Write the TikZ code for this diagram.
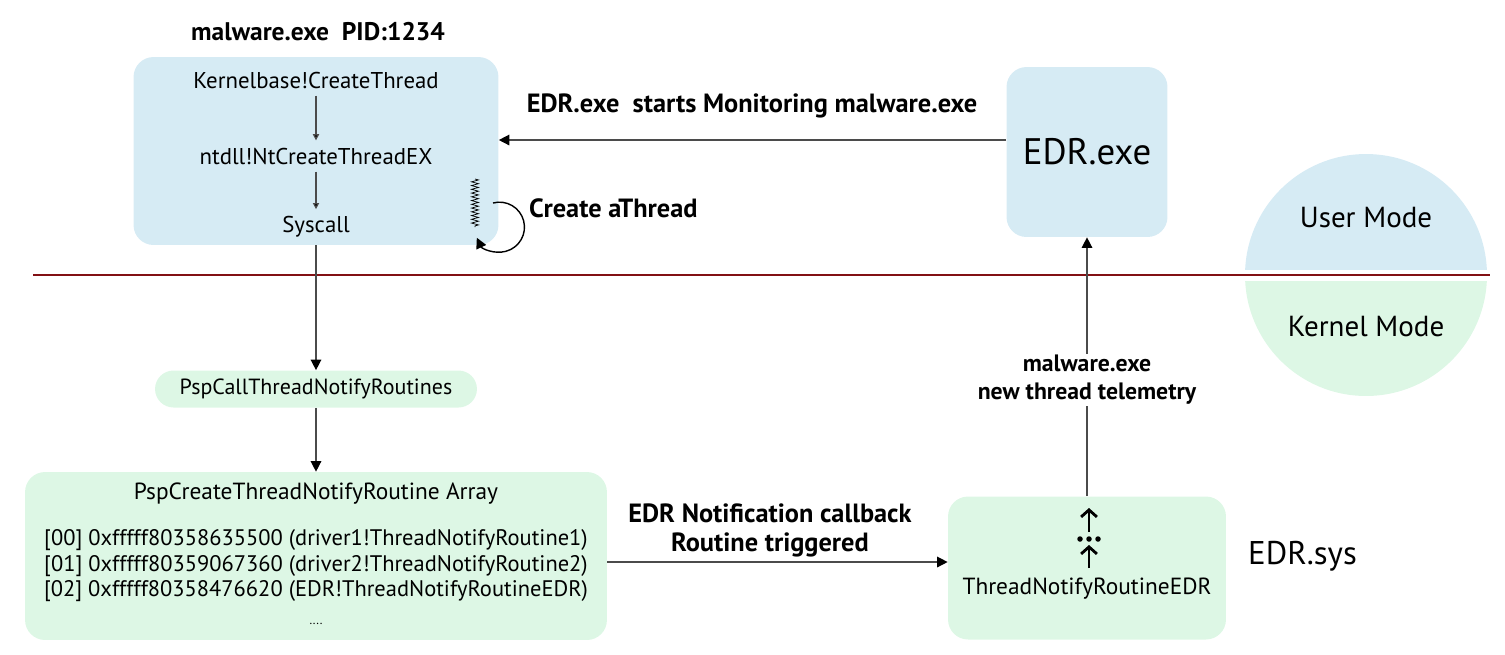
\documentclass[tikz,border=0pt]{standalone}
\usepackage{fontspec}
\setmainfont{PT Sans}
\usetikzlibrary{arrows.meta,decorations.pathmorphing}
\definecolor{userblue}{RGB}{214,235,244}
\definecolor{kernelgreen}{RGB}{221,247,229}
\definecolor{borderred}{RGB}{130,16,20}
\definecolor{linegray}{RGB}{75,75,75}

\tikzset{
  userbox/.style={fill=userblue, rounded corners=0.4cm, inner sep=0pt},
  kernbox/.style={fill=kernelgreen, rounded corners=0.4cm, inner sep=0pt},
  txt/.style={font=\fontsize{13}{15}\selectfont, inner sep=1pt},
  lbl/.style={font=\bfseries\fontsize{15}{16.5}\selectfont, align=center, inner sep=1pt},
  mode/.style={font=\fontsize{16.5}{19}\selectfont},
  flow/.style={draw=linegray, line width=0.8pt, -{Triangle[length=6pt,width=6pt,color=black]}},
  small/.style={draw=linegray, line width=0.7pt, -{Triangle[length=3.5pt,width=3.5pt]}, shorten <=3pt, shorten >=3pt},
  upar/.style={line width=1.6pt, -{Straight Barb[length=4pt,width=9pt]}}
}

\begin{document}
\begin{tikzpicture}[x=0.02cm, y=-0.02cm]
  \useasboundingbox (0,0) rectangle (1505,654);

  % user mode
  \node[lbl, font=\bfseries\fontsize{14.5}{16}\selectfont] (title) at (318,32) {malware.exe\ \ PID:1234};
  \node[userbox, minimum width=7.3cm, minimum height=3.76cm] (malbox) at (316,151) {};
  \node[txt] (k1) at (316,80) {Kernelbase!CreateThread};
  \node[txt] (k2) at (316,156) {ntdll!NtCreateThreadEX};
  \node[txt] (k3) at (316,227) {Syscall};
  \draw[small] (k1) edge (k2);
  \draw[small] (k2) edge (k3);

  \node[userbox, minimum width=3.22cm, minimum height=3.4cm,
        font=\fontsize{21}{25}\selectfont] (edrexe) at (1087,152) {EDR.exe};

  \node[lbl] (monitor) at (752,106) {EDR.exe\ \ starts Monitoring malware.exe};
  \draw[flow] ([yshift=0.24cm]edrexe.west) -- ([yshift=0.24cm]edrexe.west -| malbox.east);

  % thread loop
  \coordinate (zz1) at (475,179);
  \coordinate (zz2) at (475,227);
  \draw[decorate, decoration={zigzag, amplitude=0.07cm, segment length=0.075cm}, line width=0.4pt] (zz1) -- (zz2);
  \coordinate (loop) at (493,203);
  \draw[line width=0.8pt, -{Triangle[length=6pt,width=6pt]}] (loop) arc[start angle=105, end angle=-155, radius=0.5cm];
  \node[lbl, anchor=west] (create) at (527,208) {Create aThread};

  % user / kernel border
  \coordinate (bl) at (33,275);
  \coordinate (br) at (1490,275);
  \draw[borderred, line width=1.4pt] (bl) -- (br);

  \begin{scope}
    \clip (1230,100) rectangle (1505,269);
    \fill[userblue] (1366,275) circle[radius=2.42cm];
  \end{scope}
  \begin{scope}
    \clip (1230,281) rectangle (1505,420);
    \fill[kernelgreen] (1366,275) circle[radius=2.42cm];
  \end{scope}
  \node[mode] (user) at (1366,218) {User Mode};
  \node[mode] (kern) at (1366,327) {Kernel Mode};

  % kernel mode
  \node[kernbox, rounded corners=0.37cm, minimum width=6.44cm, minimum height=0.74cm,
        font=\fontsize{12.5}{14}\selectfont] (pcall) at (316,389) {PspCallThreadNotifyRoutines};
  \node[kernbox, minimum width=11.64cm, minimum height=3.36cm] (arr) at (316,556) {};
  \node[txt, font=\fontsize{13.3}{15}\selectfont] (arrtitle) at (316,494) {PspCreateThreadNotifyRoutine Array};
  \node[txt, align=center, font=\fontsize{12.8}{14.5}\selectfont] (arrlist) at (316,566) {%
    {[00]} 0xfffff80358635500 (driver1!ThreadNotifyRoutine1)\\
    {[01]} 0xfffff80359067360 (driver2!ThreadNotifyRoutine2)\\
    {[02]} 0xfffff80358476620 (EDR!ThreadNotifyRoutineEDR)};
  \node[font=\scriptsize] (arrdots) at (316,624) {....};

  \node[kernbox, minimum width=5.56cm, minimum height=2.86cm] (notify) at (1087,568) {};
  \node[txt, font=\fontsize{13.3}{15}\selectfont] (ntxt) at (1087,589) {ThreadNotifyRoutineEDR};
  \draw[upar] (1089,532) -- (1089,508);
  \foreach \dx in {-9,0,9}
    \fill (1089+\dx,539) circle[radius=0.055cm];
  \draw[upar] (1089,568) -- (1089,545);
  \node[font=\fontsize{18.7}{22}\selectfont, anchor=west] (edrsys) at (1242,556) {EDR.sys};

  \node[lbl] (trig) at (770,530) {EDR Notification callback\\Routine triggered};

  \draw[flow] (malbox.south) -- (pcall.north);
  \draw[flow] (pcall.south) -- (arr.north);
  \draw[flow] ([yshift=-0.12cm]arr.east) -- ([yshift=-0.12cm]arr.east -| notify.west);
  \draw[flow] (notify.north) -- (edrexe.south)
    node[lbl, pos=0.45, fill=white, font=\bfseries\fontsize{13.5}{15.5}\selectfont] {malware.exe\\new thread telemetry};
\end{tikzpicture}
\end{document}
